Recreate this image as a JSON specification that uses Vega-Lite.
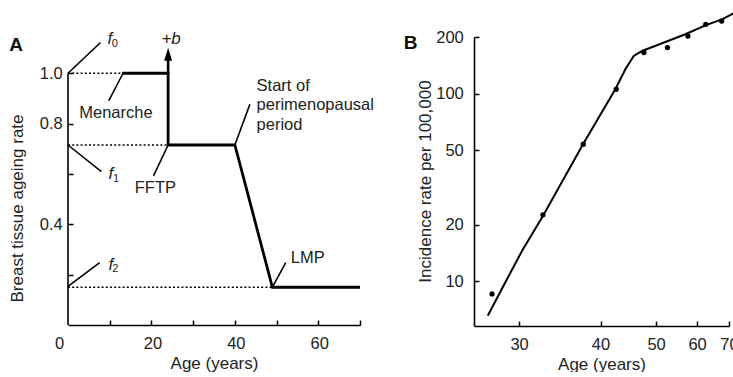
{
  "$schema": "https://vega.github.io/schema/vega-lite/v6.json",
  "padding": {"left": 8, "top": 8, "right": 0, "bottom": 0},
  "bounds": "flush",
  "spacing": 114,
  "config": {
    "font": "Liberation Sans",
    "view": {"stroke": null},
    "axis": {
      "grid": false,
      "domainColor": "#000",
      "domainWidth": 1.6,
      "tickColor": "#000",
      "tickWidth": 1.5,
      "tickSize": 5,
      "labelFlush": false,
      "labelFont": "Liberation Sans",
      "labelFontSize": 16.5,
      "labelColor": "#222",
      "titleFont": "Liberation Sans",
      "titleFontSize": 17,
      "titleFontWeight": "normal",
      "titleColor": "#222"
    },
    "text": {"font": "Liberation Sans", "color": "#222", "align": "left", "baseline": "alphabetic"}
  },
  "hconcat": [
    {
      "width": 292,
      "height": 288,
      "resolve": {"axis": {"x": "independent", "y": "independent"}},
      "layer": [
        {
          "encoding": {
            "x": {
              "field": "age", "type": "quantitative",
              "scale": {"domain": [0, 70], "nice": false, "zero": false},
              "axis": {
                "values": [0, 20, 40, 60],
                "labelOffset": {"condition": {"test": "datum.value == 0", "value": -9}, "value": 1},
                "ticks": false,
                "tickSize": 0,
                "labelPadding": 10,
                "title": "Age (years)",
                "titleBaseline": "alphabetic",
                "titleY": 43
              }
            },
            "y": {
              "field": "rate", "type": "quantitative",
              "scale": {"domain": [0, 1.144], "nice": false, "zero": true},
              "axis": {
                "values": [0.4, 0.8, 1.0],
                "format": ".1f",
                "ticks": false,
                "tickSize": 0,
                "labelPadding": 5.7,
                "domain": false,
                "title": "Breast tissue ageing rate",
                "titleAngle": -90,
                "titleBaseline": "alphabetic",
                "titleAlign": "center",
                "titleX": -46,
                "titleY": 171
              }
            }
          },
          "layer": [
            {
              "data": {"values": [{"age": 0, "rate": 0, "rate2": 1.0}]},
              "mark": {"type": "rule", "color": "#000", "strokeWidth": 1.6},
              "encoding": {"y2": {"field": "rate2"}}
            },
            {
              "data": {"values": [
                {"age": 0, "age2": 13, "rate": 1.0},
                {"age": 0, "age2": 24, "rate": 0.715},
                {"age": 0, "age2": 49, "rate": 0.15}
              ]},
              "mark": {"type": "rule", "color": "#000", "strokeWidth": 1.6, "strokeDash": [2, 2.2]},
              "encoding": {"x2": {"field": "age2"}}
            },
            {
              "data": {"values": [
                {"age": 0, "rate": 1.0, "age2": 7.8, "rate2": 1.122},
                {"age": 0, "rate": 0.715, "age2": 8.0, "rate2": 0.609},
                {"age": 0, "rate": 0.153, "age2": 7.6, "rate2": 0.248},
                {"age": 13.2, "rate": 1.0, "age2": 9.75, "rate2": 0.89},
                {"age": 24, "rate": 0.715, "age2": 20.5, "rate2": 0.592},
                {"age": 40, "rate": 0.715, "age2": 43.6, "rate2": 0.877},
                {"age": 49, "rate": 0.15, "age2": 52.2, "rate2": 0.248}
              ]},
              "mark": {"type": "rule", "color": "#000", "strokeWidth": 1.6},
              "encoding": {"x2": {"field": "age2"}, "y2": {"field": "rate2"}}
            },
            {
              "data": {"values": [
                {"age": 13, "rate": 1.0, "i": 1},
                {"age": 24, "rate": 1.0, "i": 2},
                {"age": 24, "rate": 0.715, "i": 3},
                {"age": 40, "rate": 0.715, "i": 4},
                {"age": 49, "rate": 0.15, "i": 5},
                {"age": 70, "rate": 0.15, "i": 6}
              ]},
              "mark": {"type": "line", "color": "#000", "strokeWidth": 2.8, "strokeJoin": "miter"},
              "encoding": {"order": {"field": "i"}}
            },
            {
              "data": {"values": [{"age": 24, "rate": 1.0, "rate2": 1.07, "head": 1.0755}]},
              "layer": [
                {"mark": {"type": "rule", "color": "#000", "strokeWidth": 2.6}, "encoding": {"y2": {"field": "rate2"}}},
                {"mark": {"type": "point", "shape": "M-0.8,1.3L0,-1.3L0.8,1.3Z", "filled": true, "color": "#000", "size": 100, "opacity": 1}, "encoding": {"y": {"field": "head"}}}
              ]
            },
            {
              "data": {"values": [
                {"age": 2.7, "rate": 0.824, "label": "Menarche"},
                {"age": 16.0, "rate": 0.526, "label": "FFTP"},
                {"age": 53.4, "rate": 0.248, "label": "LMP"},
                {"age": 45.2, "rate": 0.93, "label": ["Start of", "perimenopausal", "period"]}
              ]},
              "mark": {"type": "text", "fontSize": 16.5, "lineHeight": 19.5},
              "encoding": {"text": {"field": "label"}}
            },
            {
              "data": {"values": [
                {"age": 9.45, "rate": 1.115, "label": "f"},
                {"age": 9.7, "rate": 0.579, "label": "f"},
                {"age": 9.7, "rate": 0.2185, "label": "f"},
                {"age": 22.4, "rate": 1.118, "label": "+b"}
              ]},
              "mark": {"type": "text", "fontSize": 17, "fontStyle": "italic"},
              "encoding": {"text": {"field": "label"}}
            },
            {
              "data": {"values": [
                {"age": 10.5, "rate": 1.105, "label": "0"},
                {"age": 10.8, "rate": 0.568, "label": "1"},
                {"age": 10.6, "rate": 0.21, "label": "2"}
              ]},
              "mark": {"type": "text", "fontSize": 11},
              "encoding": {"text": {"field": "label"}}
            },
            {
              "data": {"values": [{"age": -14.1, "rate": 1.089, "label": "A"}]},
              "mark": {"type": "text", "fontSize": 19, "fontWeight": "bold", "color": "#111"},
              "encoding": {"text": {"field": "label"}}
            }
          ]
        },
        {
          "data": {"values": [{}]},
          "mark": {"type": "point", "opacity": 0},
          "encoding": {
            "x": {"datum": 10, "type": "quantitative",
              "axis": {"orient": "top", "offset": -288, "values": [10, 20, 30, 40, 50, 60, 70], "labels": false, "domain": false, "title": null, "ticks": true, "tickSize": 5}},
            "y": {"datum": 0.5, "type": "quantitative",
              "axis": {"orient": "right", "offset": -292, "values": [0.2, 0.4, 0.6, 0.8, 1.0], "labels": false, "domain": false, "title": null, "ticks": true, "tickSize": 5}}
          }
        }
      ]
    },
    {
      "width": 255,
      "height": 289,
      "resolve": {"axis": {"x": "independent", "y": "independent"}},
      "layer": [
        {
          "encoding": {
            "x": {
              "field": "age", "type": "quantitative",
              "scale": {"type": "pow", "exponent": -0.5, "domain": [26, 70], "nice": false, "zero": false},
              "axis": {
                "values": [30, 40, 50, 60, 70],
                "ticks": false,
                "tickSize": 0,
                "labelPadding": 10,
                "title": "Age (years)",
                "titleBaseline": "alphabetic",
                "titleY": 43
              }
            },
            "y": {
              "field": "rate", "type": "quantitative",
              "scale": {"type": "log", "domain": [5.78, 200], "nice": false},
              "axis": {
                "values": [10, 20, 50, 100, 200],
                "ticks": false,
                "tickSize": 0,
                "labelPadding": 10.7,
                "title": "Incidence rate per 100,000",
                "titleAngle": -90,
                "titleBaseline": "alphabetic",
                "titleAlign": "center",
                "titleX": -44,
                "titleY": 144
              }
            }
          },
          "layer": [
            {
              "data": {"values": [
                {"age": 27.13, "rate": 6.56},
                {"age": 28.69, "rate": 9.88},
                {"age": 30.3, "rate": 14.55},
                {"age": 32.5, "rate": 22.3},
                {"age": 37.33, "rate": 52.6},
                {"age": 39.73, "rate": 74.5},
                {"age": 42.35, "rate": 105.4},
                {"age": 44.06, "rate": 134.7},
                {"age": 45.57, "rate": 158.5},
                {"age": 47.15, "rate": 168.5},
                {"age": 52.02, "rate": 188},
                {"age": 56.84, "rate": 206.8},
                {"age": 62.35, "rate": 230.8},
                {"age": 67.6, "rate": 248.4},
                {"age": 72.16, "rate": 269.7}
              ]},
              "mark": {"type": "line", "color": "#000", "strokeWidth": 2},
              "encoding": {}
            },
            {
              "data": {"values": [
                {"age": 27.5, "rate": 8.56},
                {"age": 32.5, "rate": 22.6},
                {"age": 37.5, "rate": 53.7},
                {"age": 42.5, "rate": 105.4},
                {"age": 47.5, "rate": 165.2},
                {"age": 52.5, "rate": 175.7},
                {"age": 57.5, "rate": 202.5},
                {"age": 62.5, "rate": 233.7},
                {"age": 67.5, "rate": 243.3}
              ]},
              "mark": {"type": "point", "filled": true, "color": "#000", "size": 28, "opacity": 1},
              "encoding": {}
            },
            {
              "data": {"values": [{"age": 21.2, "rate": 172, "label": "B"}]},
              "mark": {"type": "text", "fontSize": 19, "fontWeight": "bold", "color": "#111"},
              "encoding": {"text": {"field": "label"}}
            }
          ]
        },
        {
          "data": {"values": [{}]},
          "mark": {"type": "point", "opacity": 0},
          "encoding": {
            "x": {"datum": 40, "type": "quantitative",
              "axis": {"orient": "top", "offset": -289, "values": [30, 40, 50, 60, 70], "labels": false, "domain": false, "title": null, "ticks": true, "tickSize": 5}},
            "y": {"datum": 50, "type": "quantitative",
              "axis": {"orient": "right", "offset": -255, "values": [10, 20, 50, 100, 200], "labels": false, "domain": false, "title": null, "ticks": true, "tickSize": 5}}
          }
        }
      ]
    }
  ]
}
